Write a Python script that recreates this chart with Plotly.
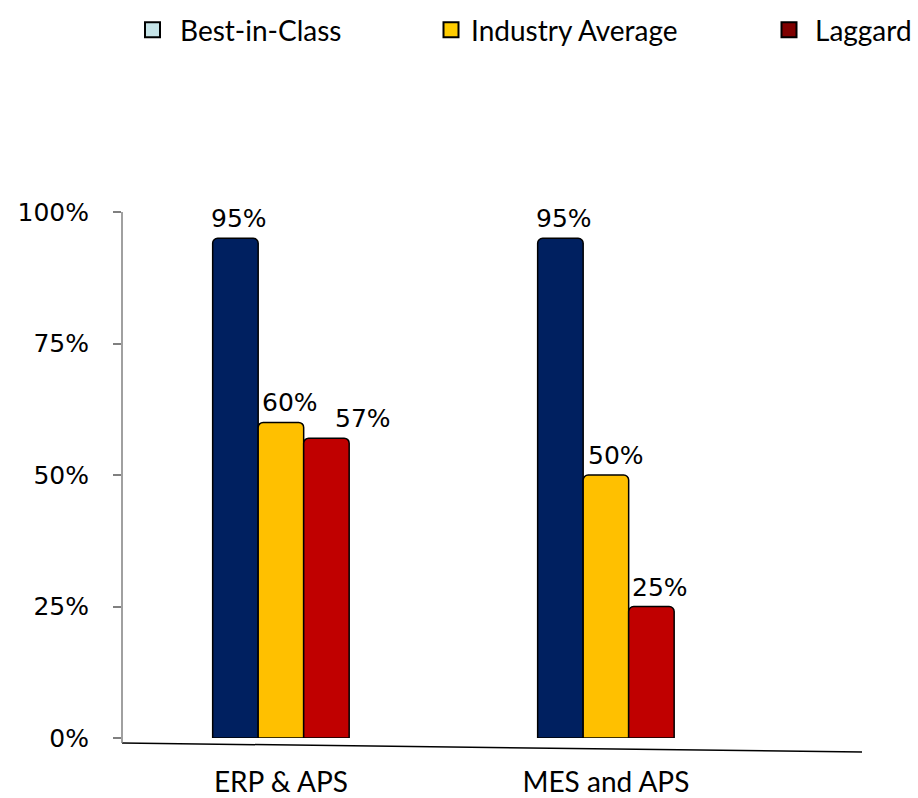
import plotly.graph_objects as go

# Share of companies per maturity class, by system combination
categories = ["ERP & APS", "MES and APS"]
series_names = ["Best-in-Class", "Industry Average", "Laggard"]
best_in_class = [0.95, 0.95]
industry_average = [0.60, 0.50]
laggard = [0.57, 0.25]

y_ticks = [0, 0.25, 0.5, 0.75, 1.0]
y_tick_labels = ["0%", "25%", "50%", "75%", "100%"]

bar_colors = ["#002060", "#FFC000", "#C00000"]
legend_colors = ["#C6E4E8", "#FFCC00", "#7F0000"]

W, H = 918, 798
BAR_GAP = 0.58
label_font = dict(family="DejaVu Sans", size=25, color="#000000")
text_font = "Lato"

# horizontal nudges (px) for the value labels so neighbours do not collide
label_nudge = [[4, 4], [9, 10], [37, 9]]

fig = go.Figure()

all_series = [best_in_class, industry_average, laggard]
n_series = len(all_series)
bar_w = (1 - BAR_GAP) / n_series

for i, (name, values, color) in enumerate(zip(series_names, all_series, bar_colors)):
    fig.add_trace(go.Bar(
        x=categories,
        y=values,
        name=name,
        marker=dict(color=color, line=dict(color="#000000", width=1.5), cornerradius=5),
        showlegend=False,
        hoverinfo="skip",
    ))
    # value label above each bar, at the bar's own category slot
    for j, v in enumerate(values):
        xc = j + (i - (n_series - 1) / 2) * bar_w
        fig.add_annotation(
            x=xc, y=v, xref="x", yref="y",
            text=f"{v:.0%}", showarrow=False,
            xanchor="center", yanchor="bottom",
            xshift=label_nudge[i][j], yshift=3,
            font=label_font,
        )

# One legend box per series, spread across the top
legend_ids = ["legend", "legend2", "legend3"]
legend_left_px = [125, 431, 763]
legend_item_width = [45, 30, 42]
for name, color, lid in zip(series_names, legend_colors, legend_ids):
    fig.add_trace(go.Scatter(
        x=[None], y=[None], mode="markers", name=name, legend=lid,
        marker=dict(symbol="square", size=15, color=color, line=dict(color="#000000", width=2)),
    ))

legend_layout = {}
for lid, left, iw in zip(legend_ids, legend_left_px, legend_item_width):
    legend_layout[lid] = dict(
        xref="container", yref="container",
        x=left / W, xanchor="left",
        y=1 - 30 / H, yanchor="middle",
        orientation="h", itemwidth=iw,
        font=dict(family=text_font, size=28, color="#000000"),
        bgcolor="rgba(0,0,0,0)", borderwidth=0,
    )

# Slightly tilted category baseline and the value axis line
fig.add_shape(type="line", xref="paper", yref="paper", x0=0, y0=-0.0095, x1=1, y1=-0.0266,
              line=dict(color="#000000", width=1.5))
fig.add_shape(type="line", xref="paper", yref="paper", x0=0, y0=1, x1=0, y1=-0.0095,
              line=dict(color="#808080", width=1.5))

fig.update_layout(
    width=W, height=H,
    margin=dict(l=122, r=56, t=212, b=60, autoexpand=False),
    paper_bgcolor="#FFFFFF", plot_bgcolor="#FFFFFF",
    barmode="group", bargap=BAR_GAP, bargroupgap=0,
    xaxis=dict(
        type="category", range=[-0.489, 1.788], automargin=False,
        showline=False, showgrid=False, zeroline=False, ticks="",
        tickfont=dict(family=text_font, size=28, color="#000000"),
        ticklabelstandoff=25,
    ),
    yaxis=dict(
        range=[0, 1], tickvals=y_ticks, ticktext=y_tick_labels, automargin=False,
        showline=False, showgrid=False, zeroline=False,
        ticks="outside", ticklen=8, tickcolor="#808080", tickwidth=1.5,
        tickfont=dict(family="DejaVu Sans", size=25, color="#000000"),
        ticklabelstandoff=19,
    ),
    showlegend=True,
    **legend_layout,
)

fig.write_html("out.html")
